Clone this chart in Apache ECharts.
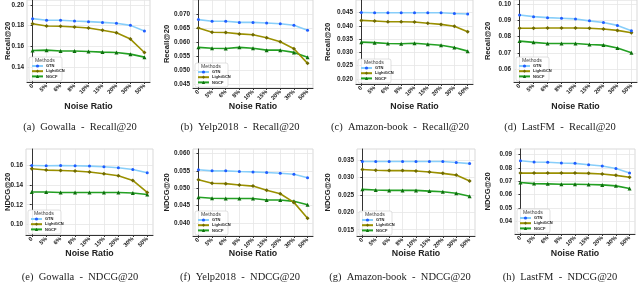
<!DOCTYPE html>
<html><head><meta charset="utf-8">
<script src="https://cdn.jsdelivr.net/npm/echarts@6/dist/echarts.min.js"></script>
<style>html,body{margin:0;padding:0;background:#fff}#c{width:640px;height:282px}</style>
</head><body><div id="c"></div>
<script>
const categories = ['0','5%','6%','8%','10%','15%','20%','30%','50%'];
const methods = ['GTN','LightGCN','NGCF'];

const gowallaRecallGTN = [0.1868,0.1852,0.1852,0.1845,0.1839,0.1832,0.1823,0.1803,0.1748];
const gowallaRecallLightGCN = [0.1819,0.1797,0.1794,0.1787,0.1777,0.1755,0.1732,0.1670,0.1540];
const gowallaRecallNGCF = [0.1560,0.1563,0.1554,0.1554,0.1550,0.1544,0.1540,0.1524,0.1495];

const yelpRecallGTN = [0.0680,0.0674,0.0674,0.0670,0.0670,0.0668,0.0665,0.0660,0.0642];
const yelpRecallLightGCN = [0.0650,0.0635,0.0634,0.0629,0.0626,0.0615,0.0601,0.0576,0.0524];
const yelpRecallNGCF = [0.0581,0.0578,0.0577,0.0581,0.0578,0.0571,0.0571,0.0563,0.0546];

const amazonRecallGTN = [0.0451,0.0450,0.0450,0.0450,0.0450,0.0450,0.0450,0.0447,0.0445];
const amazonRecallLightGCN = [0.0421,0.0419,0.0416,0.0416,0.0415,0.0410,0.0406,0.0399,0.0378];
const amazonRecallNGCF = [0.0339,0.0337,0.0334,0.0333,0.0335,0.0331,0.0327,0.0319,0.0305];

const lastfmRecallGTN = [0.0934,0.0924,0.0918,0.0914,0.0910,0.0898,0.0888,0.0870,0.0837];
const lastfmRecallLightGCN = [0.0852,0.0852,0.0854,0.0854,0.0854,0.0852,0.0848,0.0839,0.0825];
const lastfmRecallNGCF = [0.0773,0.0765,0.0758,0.0758,0.0758,0.0752,0.0748,0.0730,0.0701];

const gowallaNdcgGTN = [0.1593,0.1590,0.1593,0.1590,0.1587,0.1580,0.1570,0.1553,0.1520];
const gowallaNdcgLightGCN = [0.1560,0.1547,0.1543,0.1537,0.1527,0.1510,0.1490,0.1443,0.1323];
const gowallaNdcgNGCF = [0.1327,0.1327,0.1323,0.1323,0.1323,0.1323,0.1323,0.1317,0.1303];

const yelpNdcgGTN = [0.0553,0.0550,0.0550,0.0548,0.0547,0.0545,0.0543,0.0540,0.0530];
const yelpNdcgLightGCN = [0.0524,0.0514,0.0513,0.0509,0.0506,0.0494,0.0484,0.0459,0.0413];
const yelpNdcgNGCF = [0.0474,0.0471,0.0470,0.0470,0.0470,0.0466,0.0466,0.0462,0.0452];

const amazonNdcgGTN = [0.0346,0.0346,0.0346,0.0346,0.0346,0.0346,0.0346,0.0343,0.0340];
const amazonNdcgLightGCN = [0.0323,0.0321,0.0320,0.0320,0.0319,0.0316,0.0312,0.0307,0.0290];
const amazonNdcgNGCF = [0.0266,0.0264,0.0263,0.0263,0.0263,0.0261,0.0259,0.0255,0.0246];

const lastfmNdcgGTN = [0.0855,0.0845,0.0843,0.0838,0.0835,0.0825,0.0815,0.0797,0.0762];
const lastfmNdcgLightGCN = [0.0762,0.0762,0.0762,0.0762,0.0762,0.0760,0.0755,0.0745,0.0730];
const lastfmNdcgNGCF = [0.0691,0.0683,0.0681,0.0678,0.0678,0.0676,0.0673,0.0666,0.0646];

const ticksGowallaRecall = [0.14,0.16,0.18,0.20];
const ticksYelpRecall = [0.045,0.050,0.055,0.060,0.065,0.070];
const ticksAmazonRecall = [0.020,0.025,0.030,0.035,0.040,0.045];
const ticksLastfmRecall = [0.06,0.07,0.08,0.09,0.10];
const ticksGowallaNdcg = [0.10,0.12,0.14,0.16];
const ticksYelpNdcg = [0.040,0.045,0.050,0.055,0.060];
const ticksAmazonNdcg = [0.015,0.020,0.025,0.030,0.035];
const ticksLastfmNdcg = [0.04,0.05,0.06,0.07,0.08,0.09];

const captions = ['(a)  Gowalla  -  Recall@20','(b)  Yelp2018  -  Recall@20','(c)  Amazon-book  -  Recall@20','(d)  LastFM  -  Recall@20',
  '(e)  Gowalla  -  NDCG@20','(f)  Yelp2018  -  NDCG@20','(g)  Amazon-book  -  NDCG@20','(h)  LastFM  -  NDCG@20'];
const yTitles = ['Recall@20','Recall@20','Recall@20','Recall@20','NDCG@20','NDCG@20','NDCG@20','NDCG@20'];

const panels = [
  {data:[gowallaRecallGTN,gowallaRecallLightGCN,gowallaRecallNGCF], ticks:ticksGowallaRecall, dec:2, min:0.1254, max:0.2049, g:[27,0,123,82], yt:8},
  {data:[yelpRecallGTN,yelpRecallLightGCN,yelpRecallNGCF], ticks:ticksYelpRecall, dec:3, min:0.0436, max:0.0750, g:[193,0,120,88], yt:167},
  {data:[amazonRecallGTN,amazonRecallLightGCN,amazonRecallNGCF], ticks:ticksAmazonRecall, dec:3, min:0.0181, max:0.0498, g:[356,0,117,84], yt:328},
  {data:[lastfmRecallGTN,lastfmRecallLightGCN,lastfmRecallNGCF], ticks:ticksLastfmRecall, dec:2, min:0.0520, max:0.1027, g:[514,0,123,82], yt:488},
  {data:[gowallaNdcgGTN,gowallaNdcgLightGCN,gowallaNdcgNGCF], ticks:ticksGowallaNdcg, dec:2, min:0.0897, max:0.1758, g:[26,149,127,86], yt:8},
  {data:[yelpNdcgGTN,yelpNdcgLightGCN,yelpNdcgNGCF], ticks:ticksYelpNdcg, dec:3, min:0.0362, max:0.0613, g:[193,149,120,87], yt:167},
  {data:[amazonNdcgGTN,amazonNdcgLightGCN,amazonNdcgNGCF], ticks:ticksAmazonNdcg, dec:3, min:0.0132, max:0.0382, g:[357,149,118,87], yt:328},
  {data:[lastfmNdcgGTN,lastfmNdcgLightGCN,lastfmNdcgNGCF], ticks:ticksLastfmNdcg, dec:2, min:0.0304, max:0.0943, g:[515,149,120,85], yt:488}
];

const styles = [
  {line:'#87cefa', mark:'#1f5cff', symbol:'circle', size:3},
  {line:'#9a9000', mark:'#6f6a00', symbol:'diamond', size:4},
  {line:'#23a023', mark:'#0d6e0d', symbol:'triangle', size:4}
];

const xIdx = categories.map((c,i)=>i);
const option = {animation:false, backgroundColor:'#fff', grid:[], xAxis:[], yAxis:[], series:[], legend:[], graphic:[]};
const axisFont = 'Liberation Sans';

panels.forEach((p,k)=>{
  const [gl,gt,gw,gh] = p.g;
  option.grid.push({left:gl, top:gt, width:gw, height:gh, show:true, borderColor:'#d9d9d9', borderWidth:1, backgroundColor:'#fff'});
  option.xAxis.push({type:'value', gridIndex:k, min:-0.4, max:categories.length-1+0.4,
    axisLine:{show:true, onZero:false, lineStyle:{color:'#333', width:1}},
    axisTick:{show:true, length:2, customValues:xIdx, lineStyle:{color:'#333'}},
    axisLabel:{customValues:xIdx, rotate:45, fontSize:5.8, fontWeight:'bold', fontFamily:axisFont, color:'#222', margin:3,
      formatter:v=>categories[Math.round(v)]},
    splitLine:{show:true, lineStyle:{color:'#e6e6e6', width:0.8}}});
  option.yAxis.push({type:'value', gridIndex:k, min:p.min, max:p.max,
    axisLine:{show:true, lineStyle:{color:'#333', width:1}},
    axisTick:{show:true, length:2, customValues:p.ticks, lineStyle:{color:'#333'}},
    axisLabel:{customValues:p.ticks, fontSize:6.4, fontWeight:'bold', fontFamily:axisFont, color:'#222', margin:3,
      formatter:v=>v.toFixed(p.dec)},
    splitLine:{show:true, lineStyle:{color:'#e6e6e6', width:0.8}}});
  p.data.forEach((arr,m)=>{
    const s = styles[m];
    option.series.push({name:methods[m], type:'line', xAxisIndex:k, yAxisIndex:k,
      data:arr.map((v,i)=>[xIdx[i], v]), symbol:s.symbol, symbolSize:s.size, showSymbol:true,
      lineStyle:{color:s.line, width:1.6}, itemStyle:{color:s.mark}, z:3-m+2});
  });
  const lx = gl+2, ly = gt+gh-25;
  option.graphic.push({type:'rect', shape:{x:lx, y:ly, width:33, height:24, r:2}, style:{fill:'rgba(255,255,255,0.9)', stroke:'#cccccc', lineWidth:0.6}, z:10});
  option.graphic.push({type:'text', x:lx+16, y:ly+3.5, style:{text:'Methods', fontSize:5.2, fill:'#444', fontFamily:axisFont, align:'center', verticalAlign:'middle'}, z:11});
  option.legend.push({data:methods, orient:'vertical', left:lx+2, top:ly+7, itemGap:1.2, itemWidth:11, itemHeight:4, padding:0, z:12,
    textStyle:{fontSize:4, fontWeight:'bold', fontFamily:axisFont, color:'#222', padding:[0,0,0,-2]}});
  const cx = gl+gw/2;
  const row = k<4 ? 0 : 1;
  option.graphic.push({type:'text', x:cx, y:row? 254:107, style:{text:'Noise Ratio', fontSize:8.8, fontWeight:'bold', fontFamily:axisFont, fill:'#222', align:'center', verticalAlign:'middle'}});
  option.graphic.push({type:'text', x:p.yt, y:gt+gh/2, rotation:Math.PI/2, style:{text:yTitles[k], fontSize:7.6, fontWeight:'bold', fontFamily:axisFont, fill:'#222', align:'center', verticalAlign:'middle'}});
  option.graphic.push({type:'text', x:80+160*(k%4), y:row? 277:127, style:{text:captions[k], fontSize:10.5, fontFamily:'Liberation Serif', fill:'#222', align:'center', verticalAlign:'middle'}});
});

const chart = echarts.init(document.getElementById('c'), null, {renderer:'canvas'});
chart.setOption(option);
</script>
</body></html>
